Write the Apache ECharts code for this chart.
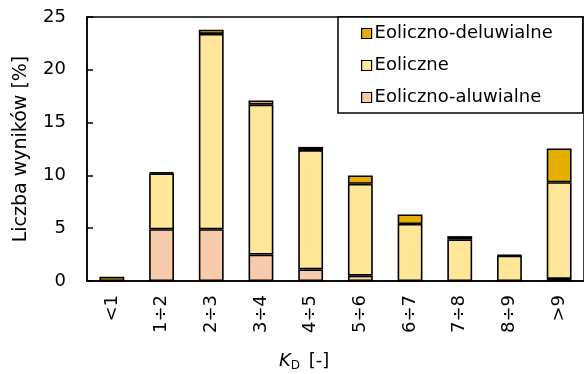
<!DOCTYPE html>
<html><head><meta charset="utf-8">
<script src="https://cdn.jsdelivr.net/npm/echarts@6/dist/echarts.min.js"></script>
<style>html,body{margin:0;padding:0;background:#fff}#c{width:584px;height:374px}</style>
</head><body><div id="c"></div>
<script>
var categories = ['<1','1÷2','2÷3','3÷4','4÷5','5÷6','6÷7','7÷8','8÷9','>9'];
var aluwialne  = [0, 4.9, 4.9, 2.5, 1.1, 0.5, 0, 0, 0, 0.2];
var eoliczne   = [0, 5.3, 18.5, 14.2, 11.3, 8.7, 5.4, 3.95, 2.4, 9.15];
var deluwialne = [0.4, 0.1, 0.4, 0.4, 0.3, 0.8, 0.9, 0.3, 0.05, 3.2];
var yTicks = [0, 5, 10, 15, 20, 25];

var FONT = 'DejaVu Sans';
var chart = echarts.init(document.getElementById('c'), null, {renderer:'canvas'});
function ser(name, data, color){
  return {name:name, type:'bar', stack:'s', data:data, barWidth:'50%',
    itemStyle:{color:color, borderColor:'#000', borderWidth:1.6}};
}
chart.setOption({
  animation:false,
  textStyle:{fontFamily:FONT},
  grid:{left:87, right:-1, top:17, bottom:93, show:true, borderColor:'#000', borderWidth:1.5},
  legend:{
    data:['Eoliczno-deluwialne','Eoliczne','Eoliczno-aluwialne'],
    orient:'vertical', left:338, top:17,
    backgroundColor:'#fff', borderColor:'#000', borderWidth:1.5,
    padding:[6, 30, 5, 23],
    itemWidth:10, itemHeight:10, itemGap:11, icon:'rect',
    itemStyle:{borderColor:'#000', borderWidth:1.2},
    textStyle:{fontFamily:FONT, fontSize:18, color:'#000', padding:[0,0,0,-2], lineHeight:21}
  },
  xAxis:{type:'category', data:categories,
    axisLine:{lineStyle:{color:'#000', width:1.5}},
    axisTick:{show:false},
    axisLabel:{rotate:90, fontSize:18, color:'#000', margin:14, fontFamily:FONT}
  },
  yAxis:{type:'value', min:yTicks[0], max:yTicks[yTicks.length-1], interval:5,
    name:'Liczba wyników [%]', nameLocation:'middle', nameGap:56,
    nameTextStyle:{fontSize:19, color:'#000', fontFamily:FONT},
    splitLine:{show:false},
    axisLine:{show:true, lineStyle:{color:'#000', width:1.5}},
    axisTick:{show:true, inside:true, length:6, lineStyle:{color:'#000', width:1.5}},
    axisLabel:{fontSize:18, color:'#000', margin:21, fontFamily:FONT}
  },
  title:{text:'{k|K}{d|D} {n|[-]}', left:274, top:345,
    textStyle:{fontWeight:'normal', rich:{
      k:{fontSize:18, fontStyle:'italic', fontWeight:'normal', fontFamily:FONT, color:'#000'},
      d:{fontSize:12, fontWeight:'normal', fontFamily:FONT, color:'#000', verticalAlign:'bottom', padding:[10,3,0,0]},
      n:{fontSize:18, fontWeight:'normal', fontFamily:FONT, color:'#000'}
    }}
  },
  series:[
    ser('Eoliczno-aluwialne', aluwialne, '#F8CBAD'),
    ser('Eoliczne', eoliczne, '#FFE699'),
    ser('Eoliczno-deluwialne', deluwialne, '#E6B000')
  ]
});
</script></body></html>
